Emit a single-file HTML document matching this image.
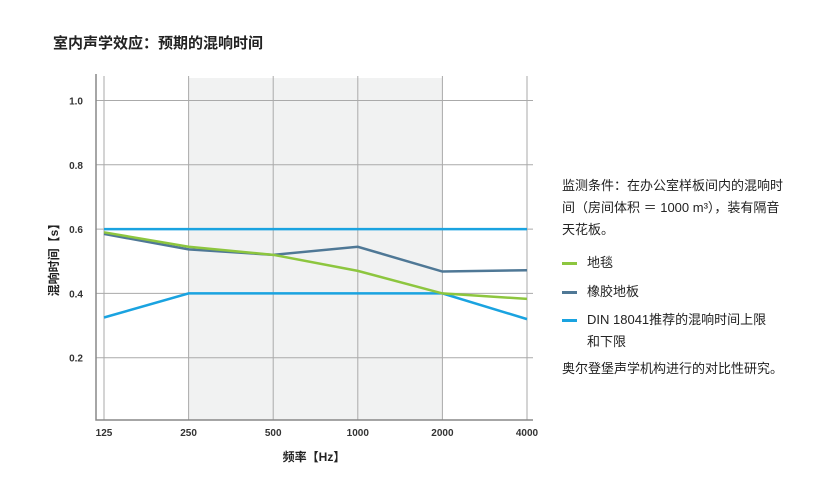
<!DOCTYPE html>
<html><head><meta charset="utf-8"><style>
body{margin:0;width:833px;height:500px;background:#fff;font-family:"Liberation Sans","Noto Sans CJK SC",sans-serif;color:#222;position:relative;overflow:hidden}
.t{position:absolute}
</style></head><body>
<div class="t" style="left:53px;top:32px;font-size:15px;font-weight:bold;">室内声学效应：预期的混响时间</div>
<svg id="c" width="833" height="500" style="position:absolute;left:0;top:0"></svg>
<div class="t" style="left:562px;top:175px;font-size:13px;line-height:22px;width:225px">
<div>监测条件：在办公室样板间内的混响时间（房间体积 ＝ 1000 m³），装有隔音天花板。</div>
<div style="margin-top:11px"><span style="display:inline-block;width:15px;height:3px;background:#8dc63f;vertical-align:middle;margin-right:10px"></span>地毯</div>
<div style="margin-top:7px"><span style="display:inline-block;width:15px;height:3px;background:#4f7896;vertical-align:middle;margin-right:10px"></span>橡胶地板</div>
<div style="margin-top:6px;padding-left:25px;text-indent:-25px"><span style="display:inline-block;width:15px;height:3px;background:#1aa3e0;vertical-align:middle;margin-right:10px"></span>DIN 18041推荐的混响时间上限<br>和下限</div>
<div style="margin-top:5px">奥尔登堡声学机构进行的对比性研究。</div>
</div>
<script>
const categories=["125","250","500","1000","2000","4000"];
const yTicks=[0.2,0.4,0.6,0.8,1.0];
const carpet=[0.59,0.545,0.52,0.47,0.40,0.383];
const rubber=[0.585,0.537,0.52,0.545,0.468,0.472];
const dinUpper=[0.6,0.6,0.6,0.6,0.6,0.6];
const dinLower=[0.325,0.40,0.40,0.40,0.40,0.32];
const svg=document.getElementById('c');const NS='http://www.w3.org/2000/svg';
function x(i){return 104+(527-104)*i/(categories.length-1);}
function y(v){return 422-v*321.5;}
function mk(t,a){const e=document.createElementNS(NS,t);for(const k in a)e.setAttribute(k,a[k]);svg.appendChild(e);return e;}
let r=mk('rect',{x:x(1),y:78,width:x(4)-x(1),height:342,fill:'#f1f2f2'});


yTicks.forEach(v=>{
 let l=mk('line',{x1:96,x2:533,y1:y(v),y2:y(v),stroke:'#aaa','stroke-width':1});
 
 
 let t=mk('text',{x:83,y:y(v)+4,'text-anchor':'end','font-size':10,'font-weight':'bold',fill:'#333'});t.textContent=v.toFixed(1);
 
 
});
categories.forEach((c,i)=>{
 let l=mk('line',{x1:x(i),x2:x(i),y1:76,y2:420,stroke:'#aaa','stroke-width':1});
 
 
 let t=mk('text',{x:x(i),y:436,'text-anchor':'middle','font-size':10,'font-weight':'bold',fill:'#333'});t.textContent=c;
 
 
});
let ax=mk('path',{d:'M96 74V420H533',fill:'none',stroke:'#888','stroke-width':1.5});


function line(d,col,name){let p=mk('polyline',{points:d.map((v,i)=>x(i)+','+y(v)).join(' '),fill:'none',stroke:col,'stroke-width':2.5});
 
 }
line(dinUpper,'#1aa3e0','din-upper-line');
line(dinLower,'#1aa3e0','din-lower-line');
line(rubber,'#4f7896','rubber-floor-line');
line(carpet,'#8dc63f','carpet-line');
let xt=mk('text',{x:314,y:461,'text-anchor':'middle','font-size':12,'font-weight':'bold',fill:'#222'});xt.textContent='频率【Hz】';


let yt=mk('text',{x:58,y:257,'text-anchor':'middle','font-size':12,'font-weight':'bold',fill:'#222',transform:'rotate(-90 58 257)'});yt.textContent='混响时间【s】';


</script>
</body></html>
